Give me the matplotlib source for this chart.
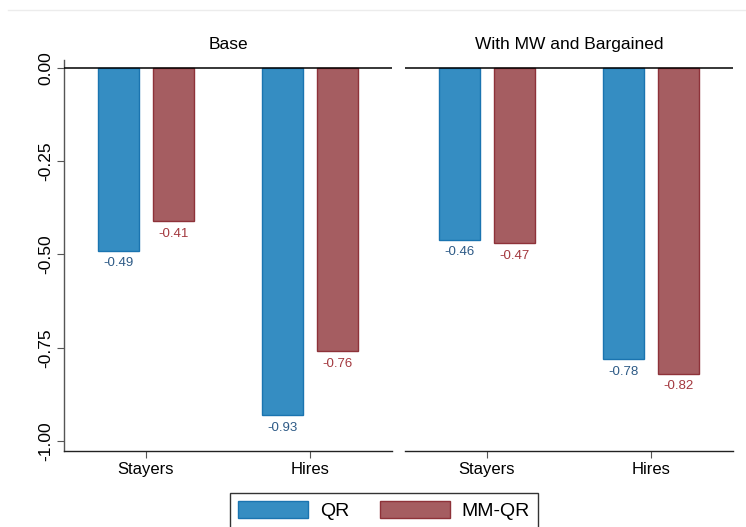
import matplotlib
matplotlib.use("Agg")
import matplotlib.pyplot as plt
from matplotlib.patches import Patch
from matplotlib.lines import Line2D

plt.rcParams["font.family"] = ["Liberation Sans", "DejaVu Sans"]

# --- data ---
panels = ["Base", "With MW and Bargained"]
groups = ["Stayers", "Hires"]
qr_vals = [[-0.49, -0.93], [-0.46, -0.78]]
mmqr_vals = [[-0.41, -0.76], [-0.47, -0.82]]
yticks = [0.0, -0.25, -0.50, -0.75, -1.00]

QR_FILL, QR_EDGE, QR_TXT = "#358dc2", "#1a74b0", "#2d5a86"
MM_FILL, MM_EDGE, MM_TXT = "#a55d61", "#8e3239", "#a3383e"

fig = plt.figure(figsize=(7.46, 5.27), dpi=100)
fig.patch.set_facecolor("white")

# faint frame line at top
fig.add_artist(Line2D([8 / 746, 1], [1 - 10 / 527, 1 - 10 / 527],
                      color="#ececec", linewidth=1, transform=fig.transFigure))

lefts = [64 / 746, 405 / 746]
bottom = 1 - 451 / 527
width = 328 / 746
height = 391 / 527

xpos = [1, 3]
off = 0.665
bw = 0.5

for i, title in enumerate(panels):
    ax = fig.add_axes([lefts[i], bottom, width, height])
    qx = [x - off / 2 for x in xpos]
    mx = [x + off / 2 for x in xpos]
    ax.bar(qx, qr_vals[i], width=bw, color=QR_FILL, edgecolor=QR_EDGE,
           linewidth=1, zorder=2)
    ax.bar(mx, mmqr_vals[i], width=bw, color=MM_FILL, edgecolor=MM_EDGE,
           linewidth=1, zorder=2)
    for x, v in zip(qx, qr_vals[i]):
        ax.text(x, v - 0.034, f"{v:.2f}", ha="center", va="center",
                fontsize=9.5, color=QR_TXT)
    for x, v in zip(mx, mmqr_vals[i]):
        ax.text(x, v - 0.034, f"{v:.2f}", ha="center", va="center",
                fontsize=9.5, color=MM_TXT)

    ax.axhline(0, color="black", linewidth=1.1, zorder=3)
    ax.set_xlim(0, 4)
    ax.set_ylim(-1.027, 0.0215)
    ax.set_xticks(xpos)
    ax.set_xticklabels(groups, fontsize=12)
    ax.set_title(title, fontsize=12.5, pad=8)

    for s in ["top", "right"]:
        ax.spines[s].set_visible(False)
    ax.spines["bottom"].set_color("#222222")
    ax.spines["bottom"].set_linewidth(1)
    ax.tick_params(axis="x", length=5, width=0.8, color="#555555", pad=3)

    if i == 0:
        ax.spines["left"].set_color("#555555")
        ax.spines["left"].set_linewidth(1)
        ax.set_yticks(yticks)
        ax.set_yticklabels([f"{t:.2f}" for t in yticks], rotation=90,
                           va="center", fontsize=12.5)
        ax.tick_params(axis="y", length=5, width=0.8, color="#555555", pad=3)
    else:
        ax.spines["left"].set_visible(False)
        ax.set_yticks([])

handles = [Patch(facecolor=QR_FILL, edgecolor=QR_EDGE, label="QR"),
           Patch(facecolor=MM_FILL, edgecolor=MM_EDGE, label="MM-QR")]
leg = fig.legend(handles=handles, loc="upper center", ncol=2,
                 bbox_to_anchor=(384 / 746, 1 - 493 / 527), fontsize=14,
                 frameon=True, fancybox=False, edgecolor="black",
                 handlelength=3.6, handleheight=1.0, columnspacing=1.6,
                 borderpad=0.4, handletextpad=0.6, borderaxespad=0)
leg.get_frame().set_linewidth(1)

fig.savefig("out.png", dpi=100)
